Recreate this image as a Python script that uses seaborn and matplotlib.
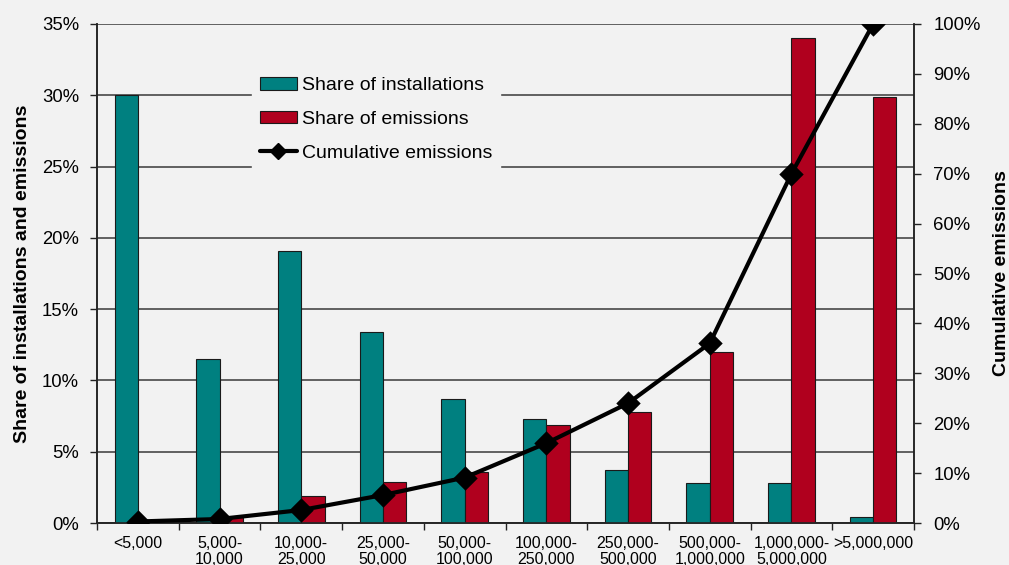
import numpy as np
import pandas as pd
import seaborn as sns
import matplotlib.pyplot as plt
from matplotlib.ticker import FuncFormatter, FixedLocator
from matplotlib.lines import Line2D

categories = ['<5,000', '5,000-\n10,000', '10,000-\n25,000', '25,000-\n50,000',
              '50,000-\n100,000', '100,000-\n250,000', '250,000-\n500,000',
              '500,000-\n1,000,000', '1,000,000-\n5,000,000', '>5,000,000']
share_installations = [30.0, 11.5, 19.1, 13.4, 8.7, 7.3, 3.7, 2.8, 2.8, 0.45]
share_emissions = [0.1, 0.4, 1.9, 2.9, 3.6, 6.9, 7.8, 12.0, 34.0, 29.9]
cumulative_emissions = [0.3, 0.8, 2.6, 5.6, 9.1, 16.0, 24.0, 36.0, 70.0, 100.0]

bg = '#F2F2F2'
teal = '#008080'
red = '#B0001E'

sns.set_theme(style='white')
plt.rcParams['font.family'] = ['Liberation Sans', 'DejaVu Sans']
plt.rcParams['text.color'] = 'black'
plt.rcParams['axes.labelcolor'] = 'black'
plt.rcParams['xtick.color'] = 'black'
plt.rcParams['ytick.color'] = 'black'

df = pd.DataFrame({
    'category': categories * 2,
    'value': share_installations + share_emissions,
    'series': ['Share of installations'] * 10 + ['Share of emissions'] * 10,
})

fig = plt.figure(figsize=(10.09, 5.65), dpi=100, facecolor=bg)
ax = fig.add_axes([97 / 1009, 1 - 523 / 565, 817 / 1009, 499 / 565])
ax.set_facecolor(bg)

sns.barplot(data=df, x='category', y='value', hue='series', ax=ax,
            palette=[teal, red], width=0.57, edgecolor='#1a1a1a', linewidth=0.8,
            saturation=1, legend=False, zorder=3)

ax.set_ylim(0, 35)
ax.set_xlim(-0.5, 9.5)
ax.set_yticks(np.arange(0, 36, 5))
ax.yaxis.set_major_formatter(FuncFormatter(lambda v, p: f'{v:.0f}%'))
ax.grid(axis='y', color='#3a3a3a', linewidth=1.1, zorder=0)
ax.set_axisbelow(True)
ax.set_xlabel('')
ax.set_ylabel('Share of installations and emissions', fontsize=14, fontweight='bold', labelpad=8)
ax.tick_params(axis='y', labelsize=13.3, length=5, width=1, color='#222222', direction='out', left=True, pad=8)
ax.tick_params(axis='x', which='major', labelsize=11.5, length=0, pad=9)
ax.xaxis.set_minor_locator(FixedLocator(np.arange(-0.5, 10, 1)))
ax.tick_params(axis='x', which='minor', length=5, width=1, color='#222222', bottom=True)
for lbl in ax.get_xticklabels():
    lbl.set_linespacing(1.15)
ax.spines['top'].set_visible(False)
for s in ['left', 'bottom', 'right']:
    ax.spines[s].set_color('#222222')
    ax.spines[s].set_linewidth(1.1)

ax2 = ax.twinx()
sns.pointplot(x=categories, y=cumulative_emissions, ax=ax2, color='black',
              markers='D', markersize=10.5, linewidth=3.0, errorbar=None, zorder=5)
ax2.set_ylim(0, 100)
ax2.set_xlim(-0.5, 9.5)
ax2.set_yticks(np.arange(0, 101, 10))
ax2.yaxis.set_major_formatter(FuncFormatter(lambda v, p: f'{v:.0f}%'))
ax2.set_ylabel('Cumulative emissions', fontsize=14, fontweight='bold', labelpad=9)
ax2.tick_params(axis='y', labelsize=13.3, length=5, width=1, color='#222222', direction='out', right=True, pad=9)
ax2.spines['top'].set_visible(False)
ax2.spines['right'].set_color('#222222')
ax2.spines['right'].set_linewidth(1.1)

handles = [
    plt.Rectangle((0, 0), 1, 1, facecolor=teal, edgecolor='#1a1a1a', linewidth=0.8),
    plt.Rectangle((0, 0), 1, 1, facecolor=red, edgecolor='#1a1a1a', linewidth=0.8),
    Line2D([0], [0], color='black', linewidth=3.0, marker='D', markersize=8),
]
labels = ['Share of installations', 'Share of emissions', 'Cumulative emissions']
leg = ax2.legend(handles, labels, loc='upper left', bbox_to_anchor=(0.178, 0.928),
                 fontsize=14, frameon=True, facecolor=bg, edgecolor=bg, framealpha=1,
                 fancybox=False, handlelength=1.9, handleheight=0.6, handletextpad=0.26,
                 labelspacing=0.85, borderpad=0.4)
leg.set_zorder(10)

fig.savefig('out.png', dpi=100, facecolor=bg)
